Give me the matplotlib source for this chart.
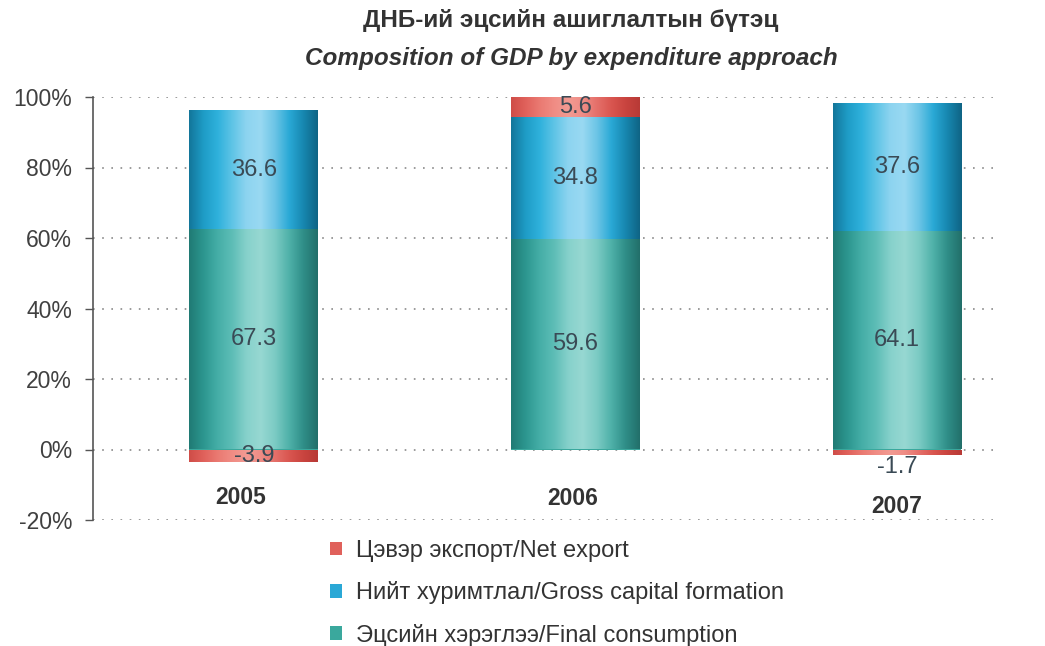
import numpy as np
import matplotlib
matplotlib.use("Agg")
import matplotlib.pyplot as plt
from matplotlib.colors import LinearSegmentedColormap
from matplotlib.patches import Patch

plt.rcParams['font.family'] = ['Liberation Sans', 'DejaVu Sans']

# ---- data ----
years = ["2005", "2006", "2007"]
final_consumption = [67.3, 59.6, 64.1]
gross_capital = [36.6, 34.8, 37.6]
net_export = [-3.9, 5.6, -1.7]
series_names = ["Цэвэр экспорт/Net export",
                "Нийт хуримтлал/Gross capital formation",
                "Эцсийн хэрэглээ/Final consumption"]
yticks = [-20, 0, 20, 40, 60, 80, 100]
ytick_labels = ["-20%", "0%", "20%", "40%", "60%", "80%", "100%"]
title_mn = "ДНБ-ий эцсийн ашиглалтын бүтэц"
title_en = "Composition of GDP by expenditure approach"

# 100% stacked: shares of the sum of absolute values
fc = np.array(final_consumption)
gc = np.array(gross_capital)
ne = np.array(net_export)
tot = np.abs(fc) + np.abs(gc) + np.abs(ne)
fc_p = fc / tot * 100
gc_p = gc / tot * 100
ne_p = ne / tot * 100
pos_top = fc_p + gc_p
ne_bottom = np.where(ne_p >= 0, pos_top, 0)

fig = plt.figure(figsize=(10.45, 6.46), dpi=100)
ax = fig.add_axes([93/1045, 1-520/646, (1000-93)/1045, (520-97)/646])

x = np.arange(len(years))
w = 0.40

teal_stops = ["#207a74", "#2c968f", "#45aea7", "#5dbdb6", "#86d1cb", "#97d8d2", "#7ccbc4", "#4fb1a9", "#2f8e88", "#226f6a"]
blue_stops = ["#13769a", "#1e9cc6", "#2fb1dc", "#5ec4e6", "#8dd4f0", "#99d9f2", "#6cc5e6", "#2aa9d6", "#1787b0", "#0f6485"]
red_stops = ["#cf4d48", "#e0615b", "#ea7a72", "#f08c84", "#f29a92", "#ef8d86", "#e5706a", "#d95650", "#c9443f", "#b83a36"]
cmaps = {
    "fc": LinearSegmentedColormap.from_list("fc", teal_stops),
    "gc": LinearSegmentedColormap.from_list("gc", blue_stops),
    "ne": LinearSegmentedColormap.from_list("ne", red_stops),
}
grad = np.linspace(0, 1, 256).reshape(1, -1)

def gradient_bars(heights, bottoms, key, base):
    bars = ax.bar(x, heights, bottom=bottoms, width=w, color=base, zorder=2, linewidth=0)
    for r in bars:
        x0, y0 = r.get_x(), r.get_y()
        x1, y1 = x0 + r.get_width(), y0 + r.get_height()
        im = ax.imshow(grad, extent=[x0, x1, min(y0, y1), max(y0, y1)], aspect='auto',
                       cmap=cmaps[key], zorder=3, interpolation='bilinear')
        im.set_clip_path(r)
    return bars

gradient_bars(fc_p, np.zeros(3), "fc", "#3aa89d")
gradient_bars(gc_p, fc_p, "gc", "#2aa8d6")
gradient_bars(ne_p, ne_bottom, "ne", "#e0615b")

ax.set_xlim(-0.5, 2.32)
ax.set_ylim(-20, 100)

# grid
for yv in yticks:
    ax.axhline(yv, color="#8a8a8a", lw=1.2, ls=(0, (1, 4.5)), zorder=1)

ax.set_yticks(yticks)
ax.set_yticklabels(ytick_labels)
ax.tick_params(axis='y', direction='out', length=6, width=1, color="#555555",
               labelsize=16.5, labelcolor="#404040", pad=9)
ax.set_xticks([])
for s in ["top", "right", "bottom"]:
    ax.spines[s].set_visible(False)
ax.spines["left"].set_color("#555555")
ax.spines["left"].set_linewidth(1.2)

# data labels
lab_kw = dict(ha='center', va='center', fontsize=17, color="#3a4a55", zorder=5)
for i in range(3):
    ax.text(x[i], fc_p[i] / 2, f"{fc[i]:.1f}", **lab_kw)
    ax.text(x[i], fc_p[i] + gc_p[i] / 2, f"{gc[i]:.1f}", **lab_kw)
    if ne[i] >= 0:
        ax.text(x[i], pos_top[i] + ne_p[i] / 2, f"{ne[i]:.1f}", **lab_kw)
    elif i == 0:
        ax.text(x[i], ne_p[i] / 2, f"{ne[i]:.1f}", **lab_kw)
    else:
        ax.text(x[i], ne_p[i] - 3.2, f"{ne[i]:.1f}", **lab_kw)

# category labels
cat_off = [(-0.04, -13.5), (-0.01, -13.8), (0.0, -16.3)]
for i, yr in enumerate(years):
    ax.text(x[i] + cat_off[i][0], cat_off[i][1], yr, ha='center', va='center',
            fontsize=16.5, fontweight='bold', color="#333333")

# titles
fig.text(571/1045, 1-20/646, title_mn, ha='center', va='center', fontsize=17.5,
         fontweight='bold', color="#333333")
fig.text(571/1045, 1-58/646, title_en, ha='center', va='center', fontsize=17.5,
         fontweight='bold', style='italic', color="#333333")

# legend
handles = [Patch(facecolor="#e0615b"), Patch(facecolor="#2aa8d6"), Patch(facecolor="#3aa89d")]
fig.legend(handles, series_names, loc='upper left', bbox_to_anchor=(318/1045, 1-528/646),
           frameon=False, fontsize=17, handlelength=0.5, handleheight=0.5,
           handletextpad=0.6, labelspacing=0.82, borderpad=0, labelcolor="#333333")

fig.savefig("out.png", dpi=100)
